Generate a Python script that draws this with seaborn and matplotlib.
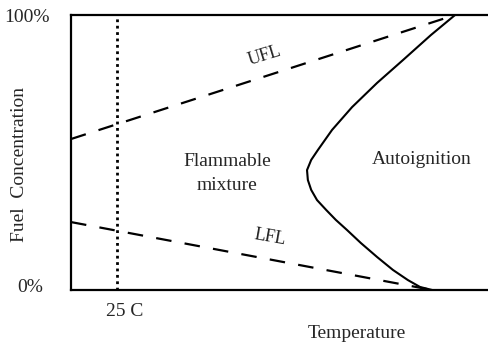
import matplotlib
matplotlib.use("Agg")
import matplotlib.pyplot as plt
import seaborn as sns
import pandas as pd

# Temperature axis is relative (0 = left edge, 1 = right edge); concentration in %
ambient_temp = 0.11          # position of the 25 C reference line
ufl_temp = [0.0, 0.921]
ufl_conc = [54.9, 100.0]
lfl_temp = [0.0, 0.866]
lfl_conc = [24.7, 0.0]

# Autoignition boundary, traced from top to bottom
ai_temp = [0.921, 0.863, 0.796, 0.734, 0.674, 0.626, 0.592, 0.576, 0.566, 0.568,
           0.576, 0.590, 0.612, 0.635, 0.662, 0.695, 0.734, 0.772, 0.808, 0.837, 0.866]
ai_conc = [100.0, 92.7, 83.6, 75.3, 66.5, 58.2, 50.9, 47.3, 43.6, 40.0,
           36.4, 32.7, 29.1, 25.5, 21.8, 17.1, 12.0, 7.3, 3.6, 1.1, 0.0]

sns.set_style("white")
plt.rcParams["font.family"] = ["Liberation Serif", "DejaVu Serif"]

fig = plt.figure(figsize=(4.88, 3.46), dpi=100)
ax = fig.add_axes([71 / 488, 56 / 346, 417 / 488, 275 / 346])

ufl = pd.DataFrame({"T": ufl_temp, "C": ufl_conc})
lfl = pd.DataFrame({"T": lfl_temp, "C": lfl_conc})
ai = pd.DataFrame({"T": ai_temp, "C": ai_conc})

dash = (0, (7, 6))
sns.lineplot(data=ufl, x="T", y="C", ax=ax, color="black", lw=1.6,
             linestyle=dash, sort=False, estimator=None)
sns.lineplot(data=lfl, x="T", y="C", ax=ax, color="black", lw=1.6,
             linestyle=dash, sort=False, estimator=None)
sns.lineplot(data=ai, x="T", y="C", ax=ax, color="black", lw=1.5,
             sort=False, estimator=None)
ax.plot([ambient_temp, ambient_temp], [0, 100], color="black", lw=2.0,
        linestyle=(0, (1, 1.3)))

ax.set_xlim(0, 1)
ax.set_ylim(0, 100)
ax.set_xticks([])
ax.set_yticks([])
ax.set_xlabel("")
ax.set_ylabel("")
for side in ("left", "top", "bottom"):
    ax.spines[side].set_color("black")
    ax.spines[side].set_linewidth(1.6)
ax.spines["right"].set_visible(False)

fs = 14
ax.text(0.465, 85.3, "UFL", fontsize=13, rotation=17, ha="center", va="center")
ax.text(0.477, 19.3, "LFL", fontsize=13, rotation=-10, ha="center", va="center")
ax.text(0.375, 42.3, "Flammable\nmixture", fontsize=fs, ha="center", va="center",
        linespacing=1.5)
ax.text(0.842, 47.3, "Autoignition", fontsize=fs, ha="center", va="center")

fig.text(50 / 488, 1 - 17 / 346, "100%", fontsize=fs, ha="right", va="center")
fig.text(43 / 488, 1 - 288 / 346, "0%", fontsize=fs, ha="right", va="center")
fig.text(125 / 488, 1 - 312 / 346, "25 C", fontsize=fs, ha="center", va="center")
fig.text(357 / 488, 1 - 333 / 346, "Temperature", fontsize=fs, ha="center", va="center")
fig.text(20 / 488, 1 - 164 / 346, "Fuel  Concentration", fontsize=fs, rotation=90,
         ha="center", va="center")

fig.savefig("out.png", dpi=100)
